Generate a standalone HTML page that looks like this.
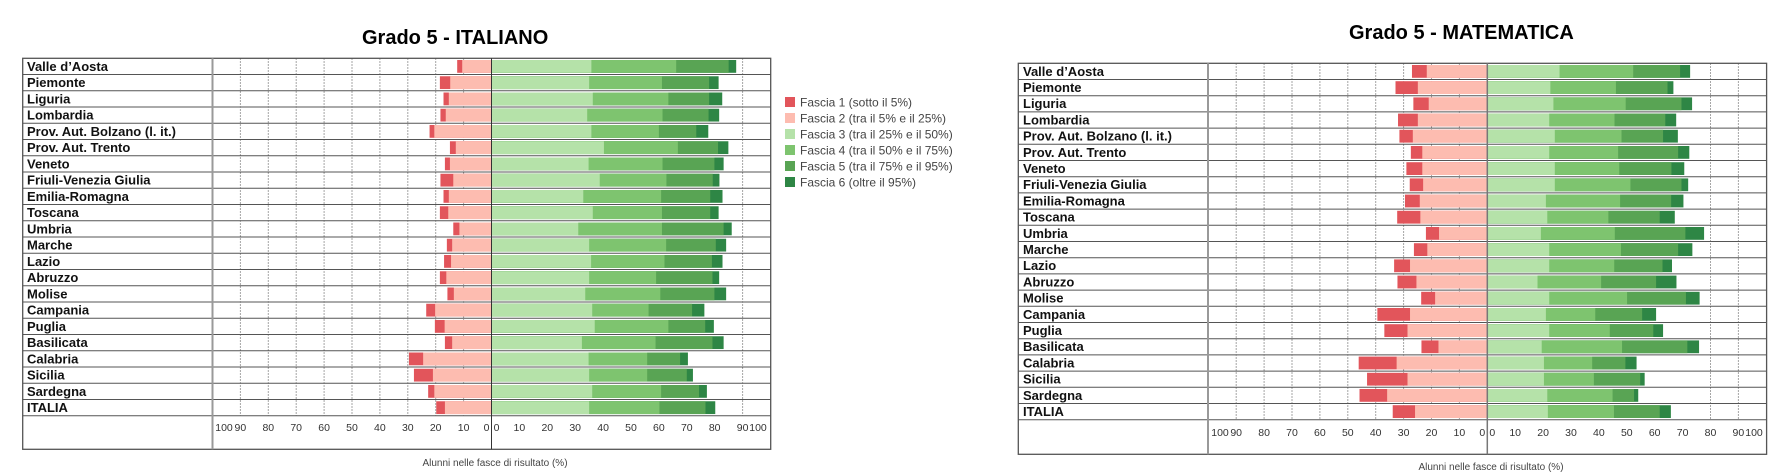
<!DOCTYPE html>
<html><head><meta charset="utf-8"><style>
html,body{margin:0;padding:0;background:#fff}
svg{display:block}
.f1{fill:#e2555b}.f2{fill:#fdbcb0}.f3{fill:#b5e2a9}.f4{fill:#7ec46f}.f5{fill:#59a454}.f6{fill:#2e8645}
.lab{font-family:"Liberation Sans",sans-serif;font-weight:bold;font-size:13px;fill:#111}
.tk{font-family:"Liberation Sans",sans-serif;font-size:10.5px;fill:#333}
.ttl{font-family:"Liberation Sans",sans-serif;font-weight:bold;font-size:20px;fill:#000}
.xl{font-family:"Liberation Sans",sans-serif;font-size:10px;fill:#444}
.lg{font-family:"Liberation Sans",sans-serif;font-size:12px;fill:#444}
</style></head><body>
<svg width="1779" height="476" viewBox="0 0 1779 476" xmlns="http://www.w3.org/2000/svg">
<rect width="1779" height="476" fill="#fff"/>

<!-- ============ LEFT CHART ============ -->
<text class="ttl" x="362" y="44">Grado 5 - ITALIANO</text>
<path d="M463.6 58.3V415.7M435.7 58.3V415.7M407.8 58.3V415.7M379.9 58.3V415.7M352 58.3V415.7M324.1 58.3V415.7M296.2 58.3V415.7M268.3 58.3V415.7M240.4 58.3V415.7M742.6 58.3V415.7" stroke="#888" stroke-width="1" stroke-dasharray="1.5,1.5" fill="none"/>
<g transform="translate(491.5,58.3) scale(2.79,1)">
<g transform="translate(0,1.7)"><rect class="f1" x="-12.3" width="12.3" height="12.8"/><rect class="f2" x="-10.5" width="10.5" height="12.8"/><rect class="f6" width="87.7" height="12.8"/><rect class="f5" width="85" height="12.8"/><rect class="f4" width="66.2" height="12.8"/><rect class="f3" width="35.8" height="12.8"/></g>
<g transform="translate(0,17.95)"><rect class="f1" x="-18.5" width="18.5" height="12.8"/><rect class="f2" x="-14.8" width="14.8" height="12.8"/><rect class="f6" width="81.4" height="12.8"/><rect class="f5" width="78" height="12.8"/><rect class="f4" width="61.1" height="12.8"/><rect class="f3" width="35" height="12.8"/></g>
<g transform="translate(0,34.2)"><rect class="f1" x="-17.2" width="17.2" height="12.8"/><rect class="f2" x="-15.3" width="15.3" height="12.8"/><rect class="f6" width="82.7" height="12.8"/><rect class="f5" width="78" height="12.8"/><rect class="f4" width="63.4" height="12.8"/><rect class="f3" width="36.3" height="12.8"/></g>
<g transform="translate(0,50.45)"><rect class="f1" x="-18.3" width="18.3" height="12.8"/><rect class="f2" x="-16.4" width="16.4" height="12.8"/><rect class="f6" width="81.6" height="12.8"/><rect class="f5" width="77.8" height="12.8"/><rect class="f4" width="61.3" height="12.8"/><rect class="f3" width="34.3" height="12.8"/></g>
<g transform="translate(0,66.7)"><rect class="f1" x="-22.2" width="22.2" height="12.8"/><rect class="f2" x="-20.5" width="20.5" height="12.8"/><rect class="f6" width="77.7" height="12.8"/><rect class="f5" width="73.4" height="12.8"/><rect class="f4" width="60" height="12.8"/><rect class="f3" width="35.8" height="12.8"/></g>
<g transform="translate(0,82.95)"><rect class="f1" x="-14.9" width="14.9" height="12.8"/><rect class="f2" x="-12.8" width="12.8" height="12.8"/><rect class="f6" width="84.9" height="12.8"/><rect class="f5" width="81.2" height="12.8"/><rect class="f4" width="66.8" height="12.8"/><rect class="f3" width="40.3" height="12.8"/></g>
<g transform="translate(0,99.2)"><rect class="f1" x="-16.7" width="16.7" height="12.8"/><rect class="f2" x="-14.9" width="14.9" height="12.8"/><rect class="f6" width="83.2" height="12.8"/><rect class="f5" width="79.9" height="12.8"/><rect class="f4" width="61.3" height="12.8"/><rect class="f3" width="34.8" height="12.8"/></g>
<g transform="translate(0,115.45)"><rect class="f1" x="-18.3" width="18.3" height="12.8"/><rect class="f2" x="-13.7" width="13.7" height="12.8"/><rect class="f6" width="81.7" height="12.8"/><rect class="f5" width="79.3" height="12.8"/><rect class="f4" width="62.7" height="12.8"/><rect class="f3" width="38.8" height="12.8"/></g>
<g transform="translate(0,131.7)"><rect class="f1" x="-17.2" width="17.2" height="12.8"/><rect class="f2" x="-15.3" width="15.3" height="12.8"/><rect class="f6" width="82.8" height="12.8"/><rect class="f5" width="78.4" height="12.8"/><rect class="f4" width="60.8" height="12.8"/><rect class="f3" width="32.9" height="12.8"/></g>
<g transform="translate(0,147.95)"><rect class="f1" x="-18.5" width="18.5" height="12.8"/><rect class="f2" x="-15.5" width="15.5" height="12.8"/><rect class="f6" width="81.4" height="12.8"/><rect class="f5" width="78.4" height="12.8"/><rect class="f4" width="61.1" height="12.8"/><rect class="f3" width="36.3" height="12.8"/></g>
<g transform="translate(0,164.2)"><rect class="f1" x="-13.7" width="13.7" height="12.8"/><rect class="f2" x="-11.5" width="11.5" height="12.8"/><rect class="f6" width="86.1" height="12.8"/><rect class="f5" width="83.2" height="12.8"/><rect class="f4" width="61.1" height="12.8"/><rect class="f3" width="31.1" height="12.8"/></g>
<g transform="translate(0,180.45)"><rect class="f1" x="-16" width="16" height="12.8"/><rect class="f2" x="-14.1" width="14.1" height="12.8"/><rect class="f6" width="84.1" height="12.8"/><rect class="f5" width="80.4" height="12.8"/><rect class="f4" width="62.6" height="12.8"/><rect class="f3" width="35" height="12.8"/></g>
<g transform="translate(0,196.7)"><rect class="f1" x="-17" width="17" height="12.8"/><rect class="f2" x="-14.5" width="14.5" height="12.8"/><rect class="f6" width="82.8" height="12.8"/><rect class="f5" width="79" height="12.8"/><rect class="f4" width="62" height="12.8"/><rect class="f3" width="35.7" height="12.8"/></g>
<g transform="translate(0,212.95)"><rect class="f1" x="-18.5" width="18.5" height="12.8"/><rect class="f2" x="-16.2" width="16.2" height="12.8"/><rect class="f6" width="81.6" height="12.8"/><rect class="f5" width="79.2" height="12.8"/><rect class="f4" width="59" height="12.8"/><rect class="f3" width="35" height="12.8"/></g>
<g transform="translate(0,229.2)"><rect class="f1" x="-15.8" width="15.8" height="12.8"/><rect class="f2" x="-13.5" width="13.5" height="12.8"/><rect class="f6" width="84.1" height="12.8"/><rect class="f5" width="79.9" height="12.8"/><rect class="f4" width="60.5" height="12.8"/><rect class="f3" width="33.6" height="12.8"/></g>
<g transform="translate(0,245.45)"><rect class="f1" x="-23.4" width="23.4" height="12.8"/><rect class="f2" x="-20.2" width="20.2" height="12.8"/><rect class="f6" width="76.3" height="12.8"/><rect class="f5" width="71.9" height="12.8"/><rect class="f4" width="56.3" height="12.8"/><rect class="f3" width="36.1" height="12.8"/></g>
<g transform="translate(0,261.7)"><rect class="f1" x="-20.3" width="20.3" height="12.8"/><rect class="f2" x="-16.8" width="16.8" height="12.8"/><rect class="f6" width="79.7" height="12.8"/><rect class="f5" width="76.6" height="12.8"/><rect class="f4" width="63.4" height="12.8"/><rect class="f3" width="37" height="12.8"/></g>
<g transform="translate(0,277.95)"><rect class="f1" x="-16.7" width="16.7" height="12.8"/><rect class="f2" x="-14.1" width="14.1" height="12.8"/><rect class="f6" width="83.2" height="12.8"/><rect class="f5" width="79.2" height="12.8"/><rect class="f4" width="58.8" height="12.8"/><rect class="f3" width="32.4" height="12.8"/></g>
<g transform="translate(0,294.2)"><rect class="f1" x="-29.6" width="29.6" height="12.8"/><rect class="f2" x="-24.5" width="24.5" height="12.8"/><rect class="f6" width="70.4" height="12.8"/><rect class="f5" width="67.6" height="12.8"/><rect class="f4" width="55.8" height="12.8"/><rect class="f3" width="34.8" height="12.8"/></g>
<g transform="translate(0,310.45)"><rect class="f1" x="-27.8" width="27.8" height="12.8"/><rect class="f2" x="-21" width="21" height="12.8"/><rect class="f6" width="72.2" height="12.8"/><rect class="f5" width="70" height="12.8"/><rect class="f4" width="55.8" height="12.8"/><rect class="f3" width="35" height="12.8"/></g>
<g transform="translate(0,326.7)"><rect class="f1" x="-22.7" width="22.7" height="12.8"/><rect class="f2" x="-20.5" width="20.5" height="12.8"/><rect class="f6" width="77.2" height="12.8"/><rect class="f5" width="74.4" height="12.8"/><rect class="f4" width="60.8" height="12.8"/><rect class="f3" width="36.1" height="12.8"/></g>
<g transform="translate(0,342.95)"><rect class="f1" x="-19.8" width="19.8" height="12.8"/><rect class="f2" x="-16.7" width="16.7" height="12.8"/><rect class="f6" width="80.2" height="12.8"/><rect class="f5" width="76.7" height="12.8"/><rect class="f4" width="60.2" height="12.8"/><rect class="f3" width="35" height="12.8"/></g>
</g>
<path d="M22.7 74.55H770.7M22.7 90.8H770.7M22.7 107.05H770.7M22.7 123.3H770.7M22.7 139.55H770.7M22.7 155.8H770.7M22.7 172.05H770.7M22.7 188.3H770.7M22.7 204.55H770.7M22.7 220.8H770.7M22.7 237.05H770.7M22.7 253.3H770.7M22.7 269.55H770.7M22.7 285.8H770.7M22.7 302.05H770.7M22.7 318.3H770.7M22.7 334.55H770.7M22.7 350.8H770.7M22.7 367.05H770.7M22.7 383.3H770.7M22.7 399.55H770.7M22.7 415.8H770.7" stroke="#555" stroke-width="1" fill="none"/>
<rect x="22.7" y="58.3" width="748" height="391" fill="none" stroke="#555" stroke-width="1.3"/>
<path d="M212.5 58.3V449.3" stroke="#999" stroke-width="2"/>
<path d="M491.5 58.3V449.3" stroke="#333" stroke-width="1"/>
<g class="lab" transform="translate(27,58.3)">
<text y="12.5">Valle d’Aosta</text><text y="28.75">Piemonte</text><text y="45">Liguria</text><text y="61.25">Lombardia</text><text y="77.5" textLength="149">Prov. Aut. Bolzano (l. it.)</text><text y="93.75">Prov. Aut. Trento</text><text y="110">Veneto</text><text y="126.25">Friuli-Venezia Giulia</text><text y="142.5">Emilia-Romagna</text><text y="158.75">Toscana</text><text y="175">Umbria</text><text y="191.25">Marche</text><text y="207.5">Lazio</text><text y="223.75">Abruzzo</text><text y="240">Molise</text><text y="256.25">Campania</text><text y="272.5">Puglia</text><text y="288.75">Basilicata</text><text y="305">Calabria</text><text y="321.25">Sicilia</text><text y="337.5">Sardegna</text><text y="353.75">ITALIA</text>
</g>
<g class="tk" text-anchor="middle">
<text x="224" y="431">100</text><text x="240.4" y="431">90</text><text x="268.3" y="431">80</text><text x="296.2" y="431">70</text><text x="324.1" y="431">60</text><text x="352" y="431">50</text><text x="379.9" y="431">40</text><text x="407.8" y="431">30</text><text x="435.7" y="431">20</text><text x="463.6" y="431">10</text><text x="486.5" y="431">0</text>
<text x="496.5" y="431">0</text><text x="519.4" y="431">10</text><text x="547.3" y="431">20</text><text x="575.2" y="431">30</text><text x="603.1" y="431">40</text><text x="631" y="431">50</text><text x="658.9" y="431">60</text><text x="686.8" y="431">70</text><text x="714.7" y="431">80</text><text x="742.6" y="431">90</text><text x="758" y="431">100</text>
</g>
<text class="xl" x="495" y="466" text-anchor="middle">Alunni nelle fasce di risultato (%)</text>

<!-- Legend -->
<rect class="f1" x="785" y="97" width="10" height="10"/><text class="lg" x="800" y="106.5">Fascia 1 (sotto il 5%)</text>
<rect class="f2" x="785" y="113" width="10" height="10"/><text class="lg" x="800" y="122.5">Fascia 2 (tra il 5% e il 25%)</text>
<rect class="f3" x="785" y="129" width="10" height="10"/><text class="lg" x="800" y="138.5">Fascia 3 (tra il 25% e il 50%)</text>
<rect class="f4" x="785" y="145" width="10" height="10"/><text class="lg" x="800" y="154.5">Fascia 4 (tra il 50% e il 75%)</text>
<rect class="f5" x="785" y="161" width="10" height="10"/><text class="lg" x="800" y="170.5">Fascia 5 (tra il 75% e il 95%)</text>
<rect class="f6" x="785" y="177" width="10" height="10"/><text class="lg" x="800" y="186.5">Fascia 6 (oltre il 95%)</text>

<!-- ============ RIGHT CHART ============ -->
<text class="ttl" x="1349" y="39">Grado 5 - MATEMATICA</text>
<path d="M1459.4 63.3V420M1431.5 63.3V420M1403.6 63.3V420M1375.7 63.3V420M1347.8 63.3V420M1319.9 63.3V420M1292 63.3V420M1264.1 63.3V420M1236.2 63.3V420M1738.4 63.3V420M1710.5 63.3V420" stroke="#888" stroke-width="1" stroke-dasharray="1.5,1.5" fill="none"/>
<g transform="translate(1487.3,63.3) scale(2.79,1)">
<g transform="translate(0,1.7)"><rect class="f1" x="-27" width="27" height="12.8"/><rect class="f2" x="-21.7" width="21.7" height="12.8"/><rect class="f6" width="72.7" height="12.8"/><rect class="f5" width="69.1" height="12.8"/><rect class="f4" width="52.3" height="12.8"/><rect class="f3" width="25.9" height="12.8"/></g>
<g transform="translate(0,17.9)"><rect class="f1" x="-32.9" width="32.9" height="12.8"/><rect class="f2" x="-24.9" width="24.9" height="12.8"/><rect class="f6" width="66.7" height="12.8"/><rect class="f5" width="64.6" height="12.8"/><rect class="f4" width="46.1" height="12.8"/><rect class="f3" width="22.6" height="12.8"/></g>
<g transform="translate(0,34.1)"><rect class="f1" x="-26.5" width="26.5" height="12.8"/><rect class="f2" x="-21" width="21" height="12.8"/><rect class="f6" width="73.4" height="12.8"/><rect class="f5" width="69.6" height="12.8"/><rect class="f4" width="49.6" height="12.8"/><rect class="f3" width="23.7" height="12.8"/></g>
<g transform="translate(0,50.3)"><rect class="f1" x="-32" width="32" height="12.8"/><rect class="f2" x="-24.9" width="24.9" height="12.8"/><rect class="f6" width="67.7" height="12.8"/><rect class="f5" width="63.8" height="12.8"/><rect class="f4" width="45.6" height="12.8"/><rect class="f3" width="22.2" height="12.8"/></g>
<g transform="translate(0,66.5)"><rect class="f1" x="-31.5" width="31.5" height="12.8"/><rect class="f2" x="-26.7" width="26.7" height="12.8"/><rect class="f6" width="68.3" height="12.8"/><rect class="f5" width="63" height="12.8"/><rect class="f4" width="48.1" height="12.8"/><rect class="f3" width="24.2" height="12.8"/></g>
<g transform="translate(0,82.7)"><rect class="f1" x="-27.4" width="27.4" height="12.8"/><rect class="f2" x="-23.3" width="23.3" height="12.8"/><rect class="f6" width="72.4" height="12.8"/><rect class="f5" width="68.4" height="12.8"/><rect class="f4" width="46.9" height="12.8"/><rect class="f3" width="22.2" height="12.8"/></g>
<g transform="translate(0,98.9)"><rect class="f1" x="-29" width="29" height="12.8"/><rect class="f2" x="-23.3" width="23.3" height="12.8"/><rect class="f6" width="70.6" height="12.8"/><rect class="f5" width="66" height="12.8"/><rect class="f4" width="47.3" height="12.8"/><rect class="f3" width="24.2" height="12.8"/></g>
<g transform="translate(0,115.1)"><rect class="f1" x="-27.8" width="27.8" height="12.8"/><rect class="f2" x="-23" width="23" height="12.8"/><rect class="f6" width="72" height="12.8"/><rect class="f5" width="69.6" height="12.8"/><rect class="f4" width="51.3" height="12.8"/><rect class="f3" width="24.2" height="12.8"/></g>
<g transform="translate(0,131.3)"><rect class="f1" x="-29.5" width="29.5" height="12.8"/><rect class="f2" x="-24.2" width="24.2" height="12.8"/><rect class="f6" width="70.3" height="12.8"/><rect class="f5" width="65.9" height="12.8"/><rect class="f4" width="47.6" height="12.8"/><rect class="f3" width="21" height="12.8"/></g>
<g transform="translate(0,147.5)"><rect class="f1" x="-32.3" width="32.3" height="12.8"/><rect class="f2" x="-24" width="24" height="12.8"/><rect class="f6" width="67.2" height="12.8"/><rect class="f5" width="61.8" height="12.8"/><rect class="f4" width="43.4" height="12.8"/><rect class="f3" width="21.5" height="12.8"/></g>
<g transform="translate(0,163.7)"><rect class="f1" x="-22" width="22" height="12.8"/><rect class="f2" x="-17.3" width="17.3" height="12.8"/><rect class="f6" width="77.7" height="12.8"/><rect class="f5" width="71" height="12.8"/><rect class="f4" width="45.7" height="12.8"/><rect class="f3" width="19.2" height="12.8"/></g>
<g transform="translate(0,179.9)"><rect class="f1" x="-26.3" width="26.3" height="12.8"/><rect class="f2" x="-21.5" width="21.5" height="12.8"/><rect class="f6" width="73.5" height="12.8"/><rect class="f5" width="68.4" height="12.8"/><rect class="f4" width="47.9" height="12.8"/><rect class="f3" width="22.2" height="12.8"/></g>
<g transform="translate(0,196.1)"><rect class="f1" x="-33.4" width="33.4" height="12.8"/><rect class="f2" x="-27.7" width="27.7" height="12.8"/><rect class="f6" width="66.2" height="12.8"/><rect class="f5" width="62.8" height="12.8"/><rect class="f4" width="45.5" height="12.8"/><rect class="f3" width="22.2" height="12.8"/></g>
<g transform="translate(0,212.3)"><rect class="f1" x="-32.2" width="32.2" height="12.8"/><rect class="f2" x="-25.4" width="25.4" height="12.8"/><rect class="f6" width="67.8" height="12.8"/><rect class="f5" width="60.5" height="12.8"/><rect class="f4" width="40.8" height="12.8"/><rect class="f3" width="18" height="12.8"/></g>
<g transform="translate(0,228.5)"><rect class="f1" x="-23.7" width="23.7" height="12.8"/><rect class="f2" x="-18.7" width="18.7" height="12.8"/><rect class="f6" width="76.1" height="12.8"/><rect class="f5" width="71.2" height="12.8"/><rect class="f4" width="50.1" height="12.8"/><rect class="f3" width="22.2" height="12.8"/></g>
<g transform="translate(0,244.7)"><rect class="f1" x="-39.4" width="39.4" height="12.8"/><rect class="f2" x="-27.7" width="27.7" height="12.8"/><rect class="f6" width="60.5" height="12.8"/><rect class="f5" width="55.5" height="12.8"/><rect class="f4" width="38.7" height="12.8"/><rect class="f3" width="21" height="12.8"/></g>
<g transform="translate(0,260.9)"><rect class="f1" x="-36.9" width="36.9" height="12.8"/><rect class="f2" x="-28.6" width="28.6" height="12.8"/><rect class="f6" width="63" height="12.8"/><rect class="f5" width="59.5" height="12.8"/><rect class="f4" width="43.9" height="12.8"/><rect class="f3" width="22.2" height="12.8"/></g>
<g transform="translate(0,277.1)"><rect class="f1" x="-23.6" width="23.6" height="12.8"/><rect class="f2" x="-17.5" width="17.5" height="12.8"/><rect class="f6" width="75.9" height="12.8"/><rect class="f5" width="71.7" height="12.8"/><rect class="f4" width="48.3" height="12.8"/><rect class="f3" width="19.5" height="12.8"/></g>
<g transform="translate(0,293.3)"><rect class="f1" x="-46.1" width="46.1" height="12.8"/><rect class="f2" x="-32.5" width="32.5" height="12.8"/><rect class="f6" width="53.5" height="12.8"/><rect class="f5" width="49.5" height="12.8"/><rect class="f4" width="37.6" height="12.8"/><rect class="f3" width="20.3" height="12.8"/></g>
<g transform="translate(0,309.5)"><rect class="f1" x="-43.1" width="43.1" height="12.8"/><rect class="f2" x="-28.6" width="28.6" height="12.8"/><rect class="f6" width="56.4" height="12.8"/><rect class="f5" width="54.8" height="12.8"/><rect class="f4" width="38.2" height="12.8"/><rect class="f3" width="20.3" height="12.8"/></g>
<g transform="translate(0,325.7)"><rect class="f1" x="-45.8" width="45.8" height="12.8"/><rect class="f2" x="-35.9" width="35.9" height="12.8"/><rect class="f6" width="54.1" height="12.8"/><rect class="f5" width="52.6" height="12.8"/><rect class="f4" width="44.9" height="12.8"/><rect class="f3" width="21.5" height="12.8"/></g>
<g transform="translate(0,341.9)"><rect class="f1" x="-33.9" width="33.9" height="12.8"/><rect class="f2" x="-25.9" width="25.9" height="12.8"/><rect class="f6" width="65.8" height="12.8"/><rect class="f5" width="61.8" height="12.8"/><rect class="f4" width="45.4" height="12.8"/><rect class="f3" width="21.7" height="12.8"/></g>
</g>
<path d="M1018.3 79.5H1766.6M1018.3 95.7H1766.6M1018.3 111.9H1766.6M1018.3 128.1H1766.6M1018.3 144.3H1766.6M1018.3 160.5H1766.6M1018.3 176.7H1766.6M1018.3 192.9H1766.6M1018.3 209.1H1766.6M1018.3 225.3H1766.6M1018.3 241.5H1766.6M1018.3 257.7H1766.6M1018.3 273.9H1766.6M1018.3 290.1H1766.6M1018.3 306.3H1766.6M1018.3 322.5H1766.6M1018.3 338.7H1766.6M1018.3 354.9H1766.6M1018.3 371.1H1766.6M1018.3 387.3H1766.6M1018.3 403.5H1766.6M1018.3 419.7H1766.6" stroke="#555" stroke-width="1" fill="none"/>
<rect x="1018.3" y="63.3" width="748.3" height="391" fill="none" stroke="#555" stroke-width="1.3"/>
<path d="M1208 63.3V454.3" stroke="#999" stroke-width="2"/>
<path d="M1487.3 63.3V454.3" stroke="#777" stroke-width="1.5"/>
<g class="lab" transform="translate(1023,63.3)">
<text y="12.5">Valle d’Aosta</text><text y="28.7">Piemonte</text><text y="44.9">Liguria</text><text y="61.1">Lombardia</text><text y="77.3" textLength="149">Prov. Aut. Bolzano (l. it.)</text><text y="93.5">Prov. Aut. Trento</text><text y="109.7">Veneto</text><text y="125.9">Friuli-Venezia Giulia</text><text y="142.1">Emilia-Romagna</text><text y="158.3">Toscana</text><text y="174.5">Umbria</text><text y="190.7">Marche</text><text y="206.9">Lazio</text><text y="223.1">Abruzzo</text><text y="239.3">Molise</text><text y="255.5">Campania</text><text y="271.7">Puglia</text><text y="287.9">Basilicata</text><text y="304.1">Calabria</text><text y="320.3">Sicilia</text><text y="336.5">Sardegna</text><text y="352.7">ITALIA</text>
</g>
<g class="tk" text-anchor="middle">
<text x="1220" y="436">100</text><text x="1236.2" y="436">90</text><text x="1264.1" y="436">80</text><text x="1292" y="436">70</text><text x="1319.9" y="436">60</text><text x="1347.8" y="436">50</text><text x="1375.7" y="436">40</text><text x="1403.6" y="436">30</text><text x="1431.5" y="436">20</text><text x="1459.4" y="436">10</text><text x="1482.3" y="436">0</text>
<text x="1492.3" y="436">0</text><text x="1515.2" y="436">10</text><text x="1543.1" y="436">20</text><text x="1571" y="436">30</text><text x="1598.9" y="436">40</text><text x="1626.8" y="436">50</text><text x="1654.7" y="436">60</text><text x="1682.6" y="436">70</text><text x="1710.5" y="436">80</text><text x="1738.4" y="436">90</text><text x="1754" y="436">100</text>
</g>
<text class="xl" x="1491" y="470" text-anchor="middle">Alunni nelle fasce di risultato (%)</text>
</svg>
</body></html>
